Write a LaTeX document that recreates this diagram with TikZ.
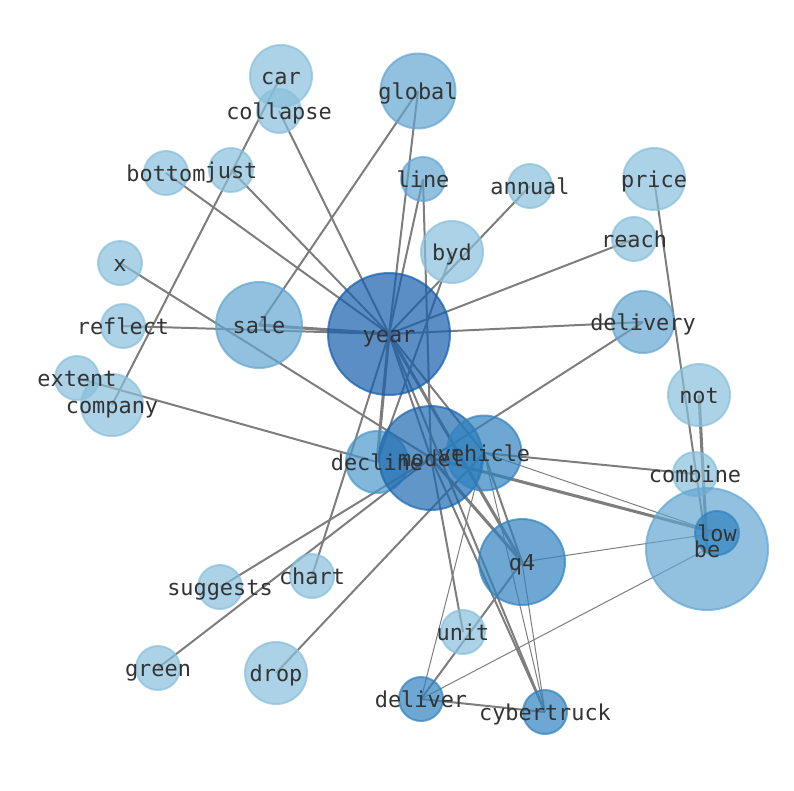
\documentclass[tikz,border=0pt]{standalone}
\usepackage{fontspec}
\setmonofont{DejaVu Sans Mono}
\definecolor{wl}{RGB}{136,191,219}
\definecolor{wm}{RGB}{99,166,209}
\definecolor{wdc}{RGB}{74,152,204}
\definecolor{wd}{RGB}{48,131,191}
\definecolor{wmo}{RGB}{28,105,176}
\definecolor{wy}{RGB}{20,94,171}
\definecolor{linkgray}{RGB}{125,125,125}
\pgfdeclarelayer{links}
\pgfsetlayers{links,main}

\begin{document}
\begin{tikzpicture}[x=0.0265cm,y=-0.0265cm,disc/.style={shape=circle,inner sep=0pt,line width=1.5pt,fill opacity=0.7,draw opacity=0.7},discS/.style={disc,minimum size=1.166cm},discM/.style={disc,minimum size=1.643cm},discL/.style={disc,minimum size=1.988cm},discXL/.style={disc,minimum size=2.279cm},discXXL/.style={disc,minimum size=2.756cm},discH/.style={disc,minimum size=3.233cm},tl/.style={fill=wl,draw=wl},tm/.style={fill=wm,draw=wm},tdc/.style={fill=wdc,draw=wdc},td/.style={fill=wd,draw=wd},tmo/.style={fill=wmo,draw=wmo},ty/.style={fill=wy,draw=wy},word/.style={font=\ttfamily\fontsize{16.5}{18}\selectfont,text=black!80,inner sep=0pt,text height=14pt,text depth=1.3pt},link/.style={draw=linkgray,line width=1.5pt},linkT/.style={draw=linkgray,line width=0.75pt},linkB/.style={draw=linkgray,line width=2.3pt}]
\useasboundingbox (0,0) rectangle (794,790);

\node[discH,ty] (year) at (389,334) {};
\node[discXL,tm] (sale) at (259,325) {};
\node[discL,tm] (global) at (418,91) {};
\node[discM,tl] (car) at (281,76) {};
\node[discS,tl] (collapse) at (279,111) {};
\node[discS,tl] (just) at (231,170) {};
\node[discS,tl] (bottom) at (166,173) {};
\node[discS,tl] (x) at (120,263) {};
\node[discS,tl] (reflect) at (123,326) {};
\node[discS,tl] (extent) at (77,378) {};
\node[discM,tl] (company) at (112,405) {};
\node[discS,tm] (line) at (423,179) {};
\node[discS,tl] (annual) at (530,186) {};
\node[discM,tl] (byd) at (452,252) {};
\node[discM,tl] (price) at (654,179) {};
\node[discS,tl] (reach) at (634,239) {};
\node[discM,tm] (delivery) at (643,322) {};
\node[discM,tl] (not) at (699,395) {};
\node[discS,tl] (combine) at (695,474) {};
\node[discH,tm] (be) at (707,549) {};
\node[discS,td] (low) at (717,533) {};
\node[discM,tdc] (decline) at (377,462) {};
\node[discXXL,tmo] (model) at (431,458) {};
\node[discL,td] (vehicle) at (484,453) {};
\node[discXL,td] (q4) at (522,562) {};
\node[discS,tl] (suggests) at (220,587) {};
\node[discS,tl] (chart) at (312,576) {};
\node[discS,tl] (green) at (158,668) {};
\node[discM,tl] (drop) at (276,673) {};
\node[discS,tl] (unit) at (463,632) {};
\node[discS,td] (deliver) at (421,699) {};
\node[discS,td] (cybertruck) at (545,712) {};

\node[word] (yearT) at (year) {year};
\node[word] (saleT) at (sale) {sale};
\node[word] (globalT) at (global) {global};
\node[word] (carT) at (car) {car};
\node[word] (collapseT) at (collapse) {collapse};
\node[word] (justT) at (just) {just};
\node[word] (bottomT) at (bottom) {bottom};
\node[word] (xT) at (x) {x};
\node[word] (reflectT) at (reflect) {reflect};
\node[word] (extentT) at (extent) {extent};
\node[word] (companyT) at (company) {company};
\node[word] (lineT) at (line) {line};
\node[word] (annualT) at (annual) {annual};
\node[word] (bydT) at (byd) {byd};
\node[word] (priceT) at (price) {price};
\node[word] (reachT) at (reach) {reach};
\node[word] (deliveryT) at (delivery) {delivery};
\node[word] (notT) at (not) {not};
\node[word] (combineT) at (combine) {combine};
\node[word] (beT) at (be) {be};
\node[word] (lowT) at (low) {low};
\node[word] (declineT) at (decline) {decline};
\node[word] (modelT) at (model) {model};
\node[word] (vehicleT) at (vehicle) {vehicle};
\node[word] (q4T) at (q4) {q4};
\node[word] (suggestsT) at (suggests) {suggests};
\node[word] (chartT) at (chart) {chart};
\node[word] (greenT) at (green) {green};
\node[word] (dropT) at (drop) {drop};
\node[word] (unitT) at (unit) {unit};
\node[word] (deliverT) at (deliver) {deliver};
\node[word] (cybertruckT) at (cybertruck) {cybertruck};

\begin{pgfonlayer}{links}
\draw[link] (car.center) -- (company.center);
\draw[link] (collapse.center) -- (year.center);
\draw[link] (global.center) -- (sale.center);
\draw[link] (global.center) -- (year.center);
\draw[link] (line.center) -- (year.center);
\draw[link] (line.center) -- (model.center);
\draw[link] (bottom.center) -- (year.center);
\draw[link] (just.center) -- (year.center);
\draw[link] (reflect.center) -- (year.center);
\draw[linkB] (sale.center) -- (year.center);
\draw[link] (x.center) -- (model.center);
\draw[link] (extent.center) -- (decline.center);
\draw[link] (annual.center) -- (year.center);
\draw[link] (byd.center) -- (decline.center);
\draw[link] (reach.center) -- (year.center);
\draw[link] (delivery.center) -- (year.center);
\draw[link] (delivery.center) -- (model.center);
\draw[link] (chart.center) -- (year.center);
\draw[link] (suggests.center) -- (model.center);
\draw[link] (green.center) -- (model.center);
\draw[link] (drop.center) -- (vehicle.center);
\draw[link] (year.center) -- (model.center);
\draw[link] (year.center) -- (vehicle.center);
\draw[linkB] (year.center) -- (decline.center);
\draw[linkB] (year.center) -- (q4.center);
\draw[link] (year.center) -- (cybertruck.center);
\draw[linkB] (model.center) -- (q4.center);
\draw[link] (model.center) -- (cybertruck.center);
\draw[link] (model.center) -- (unit.center);
\draw[linkB] (model.center) -- (low.center);
\draw[link] (vehicle.center) -- (q4.center);
\draw[link] (vehicle.center) -- (combine.center);
\draw[linkT] (vehicle.center) -- (low.center);
\draw[linkT] (vehicle.center) -- (cybertruck.center);
\draw[linkT] (q4.center) -- (cybertruck.center);
\draw[linkT] (q4.center) -- (low.center);
\draw[link] (deliver.center) -- (q4.center);
\draw[link] (deliver.center) -- (cybertruck.center);
\draw[linkT] (deliver.center) -- (vehicle.center);
\draw[linkT] (deliver.center) -- (be.center);
\draw[linkB] (not.center) -- (be.center);
\draw[link] (price.center) -- (be.center);
\end{pgfonlayer}
\end{tikzpicture}
\end{document}
